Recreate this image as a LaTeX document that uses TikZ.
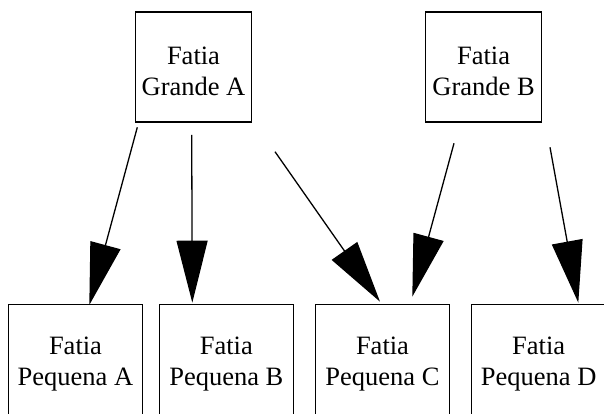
\documentclass[tikz,border=0pt]{standalone}
\usepackage{fontspec}
\setmainfont{Liberation Serif}
\usetikzlibrary{arrows.meta,calc}
\tikzset{
  box/.style={draw=black, line width=1.3pt, rectangle, inner sep=0pt},
  bigbox/.style={box, minimum width=116pt, minimum height=110pt},
  smallbox/.style={box, minimum width=134pt, minimum height=112pt},
  lbl/.style={align=center, inner sep=0pt, font=\fontsize{26.5}{31}\selectfont},
  conn/.style={line width=1.3pt, -{Triangle[length=62pt, width=31pt]}}
}
\begin{document}
\begin{tikzpicture}[x=1pt,y=1pt]
\useasboundingbox (0,0) rectangle (604,414);
% top boxes
\node[bigbox] (ga) at (193.5,347) {};
\node[bigbox] (gb) at (483.6,347) {};
\node[lbl] (gat) at ($(ga.center)+(0,-4)$) {Fatia\\Grande A};
\node[lbl] (gbt) at ($(gb.center)+(0,-4)$) {Fatia\\Grande B};
% bottom boxes
\node[smallbox, anchor=north] (pa) at (75.5,110) {};
\node[smallbox, anchor=north] (pb) at (226.3,110) {};
\node[smallbox, anchor=north] (pc) at (382.5,110) {};
\node[smallbox, anchor=north] (pd) at (538.7,110) {};
\node[lbl] (pat) at (75.5,49.5) {Fatia\\Pequena A};
\node[lbl] (pbt) at (226.3,49.5) {Fatia\\Pequena B};
\node[lbl] (pct) at (382.5,49.5) {Fatia\\Pequena C};
\node[lbl] (pdt) at (538.7,49.5) {Fatia\\Pequena D};
% connector ends
\coordinate (s1) at (137.3,286.7);
\coordinate (t1) at (89.3,109);
\coordinate (s2) at (191.7,279);
\coordinate (t2) at (192.3,111.3);
\coordinate (s3) at (275,262.3);
\coordinate (t3) at (380,112.3);
\coordinate (s4) at (454,270.7);
\coordinate (t4) at (412.3,117.3);
\coordinate (s5) at (550,266.7);
\coordinate (t5) at (578.3,111.3);
\draw[conn] (s1) -- (t1);
\draw[conn] (s2) -- (t2);
\draw[conn] (s3) -- (t3);
\draw[conn] (s4) -- (t4);
\draw[conn] (s5) -- (t5);
\end{tikzpicture}
\end{document}
